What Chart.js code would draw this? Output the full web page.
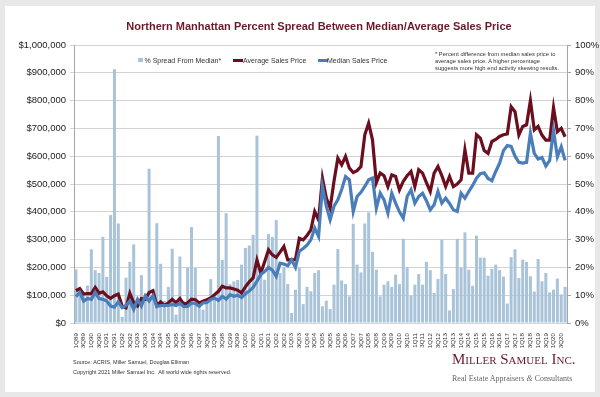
<!DOCTYPE html>
<html>
<head>
<meta charset="utf-8">
<script src="https://cdn.jsdelivr.net/npm/chart.js@4.4.1/dist/chart.umd.min.js"></script>
<style>
  body { margin: 0; background: #e8e8e8; font-family: "Liberation Sans", Arial, sans-serif; }
  #wrap { position: relative; width: 600px; height: 397px; overflow: hidden; }
  #panel { position: absolute; left: 5px; top: 6px; width: 590px; height: 386px; background: #fff; }
  #box { position: absolute; left: 0; top: 0; width: 600px; height: 397px; }
  .t { position: absolute; white-space: nowrap; line-height: 1; }
  #title { left: 0; width: 638px; top: 21px; text-align: center; font-weight: bold; font-size: 11px; color: #6b1a2a; }
  .leg { position: absolute; font-size: 7px; color: #333; top: 56.5px; white-space: nowrap; }
  .mk { position: absolute; }
  #note { left: 435px; top: 51px; font-size: 5.8px; color: #333; line-height: 7px; }
  .foot { left: 73px; font-size: 5.5px; color: #333; }
  #logo { left: 452px; top: 352px; font-family: "Liberation Serif", "DejaVu Serif", serif; font-variant: small-caps; font-size: 15px; color: #6b1a2a; }
  #tag { left: 452px; top: 375px; font-family: "Liberation Serif", "DejaVu Serif", serif; font-size: 8px; color: #666; }
</style>
</head>
<body>
<div id="wrap">
  <div id="panel"></div>
  <div id="box"><canvas id="chart"></canvas></div>
  <div class="t" id="title">Northern Manhattan Percent Spread Between Median/Average Sales Price</div>

  <div class="mk" style="left:138px;top:58px;width:5px;height:4px;background:#a9c3d9"></div>
  <div class="leg" style="left:144.5px">% Spread From Median*</div>
  <div class="mk" style="left:233px;top:58.5px;width:10px;height:3px;background:#6b0e1e"></div>
  <div class="leg" style="left:243px">Average Sales Price</div>
  <div class="mk" style="left:318px;top:58.5px;width:10px;height:3px;background:#4a7ebb"></div>
  <div class="leg" style="left:327px">Median Sales Price</div>

  <div class="t" id="note">* Percent difference from median sales price to<br>average sales price. A higher percentage<br>suggests more high end activity skewing results.</div>

  <div class="t foot" style="top:360px">Source: ACRIS, Miller Samuel, Douglas Elliman</div>
  <div class="t foot" style="top:370px">Copyright 2021 Miller Samuel Inc.&nbsp; All world wide rights reserved.</div>
  <div class="t" id="logo">Miller Samuel Inc.</div>
  <div class="t" id="tag">Real Estate Appraisers <i>&amp;</i> Consultants</div>
</div>

<script>
// quarters 1Q89 .. 4Q20
const quarters = [];
for (let y = 1989; y <= 2020; y++) {
    for (let q = 1; q <= 4; q++) {
        quarters.push(q + 'Q' + String(y).slice(2));
    }
}

// % spread from median (bars, right axis)
const spreadPct = [
    19.3, 10, 11, 13.5, 26.5, 19, 18, 31, 16.6, 38.8,
    91.3, 35.8, 2.2, 16.3, 22, 28.3, 8, 17.2, 9, 55.5,
    10, 35.9, 21.3, 8, 13, 26.7, 3, 23.9, 8, 20,
    34.5, 19.8, 7, 4.8, 8, 15.8, 10, 67.3, 22.7, 39.5,
    14, 15, 15.5, 21, 27, 27.9, 31.7, 67.4, 18, 15.6,
    32, 31, 37, 18, 20, 14, 3.6, 12, 20, 6.8,
    13, 11.4, 18, 19, 6, 8, 5, 13.8, 26.6, 15.3,
    14, 9.6, 35.7, 21, 18.2, 35.8, 39.8, 25.6, 19.2, 9.6,
    13.8, 15, 13, 17.4, 14, 30.3, 20, 9.8, 13.8, 17.6,
    13.8, 22, 19, 10.8, 15.8, 30, 17.6, 4.5, 12.2, 30.3,
    19.8, 32.6, 19.2, 13.4, 31.4, 23.5, 23.5, 17, 19.5, 21,
    19, 16.7, 7, 23.7, 26.5, 16.2, 22.8, 22, 16.8, 11.3,
    23, 15, 18, 11, 12, 16, 10.3, 13
];

// average sales price
const avgPrice = [
    116000, 124000, 104000, 106000, 106000, 128000, 107000, 112000, 98000, 89000,
    98000, 104000, 61000, 55000, 107000, 73000, 61000, 88000, 85000, 110000,
    116000, 63000, 76000, 63000, 73000, 85000, 73000, 88000, 67000, 72000,
    86000, 84000, 72000, 78000, 84000, 90000, 102000, 114000, 132000, 126000,
    126000, 122000, 118000, 108000, 130000, 148000, 162000, 227000, 180000, 220000,
    263000, 245000, 236000, 255000, 275000, 227000, 227000, 228000, 305000, 299000,
    315000, 335000, 401000, 371000, 521000, 450000, 413000, 510000, 593000, 569000,
    599000, 557000, 541000, 548000, 563000, 677000, 719000, 659000, 505000, 540000,
    530000, 491000, 533000, 527000, 479000, 510000, 530000, 545000, 491000, 551000,
    539000, 505000, 473000, 539000, 563000, 530000, 491000, 527000, 491000, 500000,
    515000, 623000, 539000, 539000, 677000, 665000, 620000, 610000, 653000, 660000,
    671000, 677000, 680000, 778000, 760000, 676000, 707000, 713000, 800000, 695000,
    707000, 676000, 658000, 658000, 775000, 688000, 700000, 670000
];

// median sales price
const medPrice = [
    95000, 110000, 79000, 88000, 85000, 110000, 88000, 85000, 79000, 61000,
    57000, 76000, 55000, 63000, 79000, 49000, 85000, 61000, 98000, 79000,
    98000, 59000, 63000, 63000, 63000, 67000, 63000, 71000, 59000, 60000,
    72000, 70000, 60000, 72000, 74000, 84000, 90000, 81000, 96000, 86000,
    102000, 96000, 100000, 92000, 105000, 115000, 128000, 150000, 175000, 185000,
    200000, 190000, 168000, 215000, 212000, 206000, 227000, 200000, 258000, 268000,
    280000, 299000, 341000, 311000, 491000, 420000, 371000, 420000, 443000, 480000,
    527000, 515000, 401000, 455000, 470000, 491000, 515000, 521000, 413000, 467000,
    443000, 395000, 467000, 431000, 400000, 377000, 455000, 479000, 431000, 455000,
    467000, 440000, 407000, 425000, 473000, 431000, 449000, 430000, 407000, 401000,
    467000, 449000, 473000, 495000, 521000, 537000, 540000, 520000, 512000, 545000,
    575000, 620000, 638000, 635000, 600000, 578000, 575000, 578000, 683000, 610000,
    590000, 595000, 565000, 585000, 692000, 598000, 634000, 585000
];

const ctx = document.getElementById('chart').getContext('2d');
const tickFont = { family: '"Liberation Sans", Arial, sans-serif', size: 9.5 };

const myChart = new Chart(ctx, {
    type: 'bar',
    data: {
        labels: quarters,
        datasets: [
            {
                label: 'Median Sales Price',
                type: 'line',
                data: medPrice,
                yAxisID: 'y',
                borderColor: '#4a7ebb',
                borderWidth: 3.2,
                pointRadius: 0,
                tension: 0,
                order: 1
            },
            {
                label: 'Average Sales Price',
                type: 'line',
                data: avgPrice,
                yAxisID: 'y',
                borderColor: '#6b0e1e',
                borderWidth: 3.2,
                pointRadius: 0,
                tension: 0,
                order: 2
            },
            {
                label: '% Spread From Median*',
                data: spreadPct,
                yAxisID: 'pct',
                backgroundColor: '#a9c3d9',
                barPercentage: 0.78,
                categoryPercentage: 1,
                order: 3
            }
        ]
    },
    options: {
        responsive: true,
        maintainAspectRatio: false,
        animation: false,
        layout: { padding: { top: 45, left: 0, right: 0, bottom: 0 } },
        plugins: {
            legend: { display: false },
            tooltip: { enabled: false }
        },
        scales: {
            x: {
                offset: true,
                grid: { display: false },
                border: { display: false },
                ticks: {
                    autoSkip: false,
                    maxRotation: 90,
                    minRotation: 90,
                    padding: 2,
                    color: '#333',
                    font: { family: tickFont.family, size: 6.2 },
                    callback: function (value, index) {
                        return index % 2 === 0 ? quarters[index] : '';
                    }
                },
                afterFit: (scale) => { scale.height = 74; }
            },
            y: {
                position: 'left',
                min: 0,
                max: 1000000,
                ticks: {
                    stepSize: 100000,
                    color: '#222',
                    font: tickFont,
                    padding: 4,
                    callback: (v) => '$' + v.toLocaleString('en-US')
                },
                grid: { color: '#d3d3d3', lineWidth: 1, tickLength: 4 },
                border: { color: '#a6a6a6' },
                afterFit: (scale) => { scale.width = 74; }
            },
            pct: {
                position: 'right',
                min: 0,
                max: 100,
                ticks: {
                    stepSize: 10,
                    color: '#222',
                    font: tickFont,
                    padding: 4,
                    callback: (v) => v + '%'
                },
                grid: { drawOnChartArea: false, color: '#a6a6a6', tickLength: 4 },
                border: { color: '#a6a6a6' },
                afterFit: (scale) => { scale.width = 33; }
            }
        }
    }
});
</script>
</body>
</html>
